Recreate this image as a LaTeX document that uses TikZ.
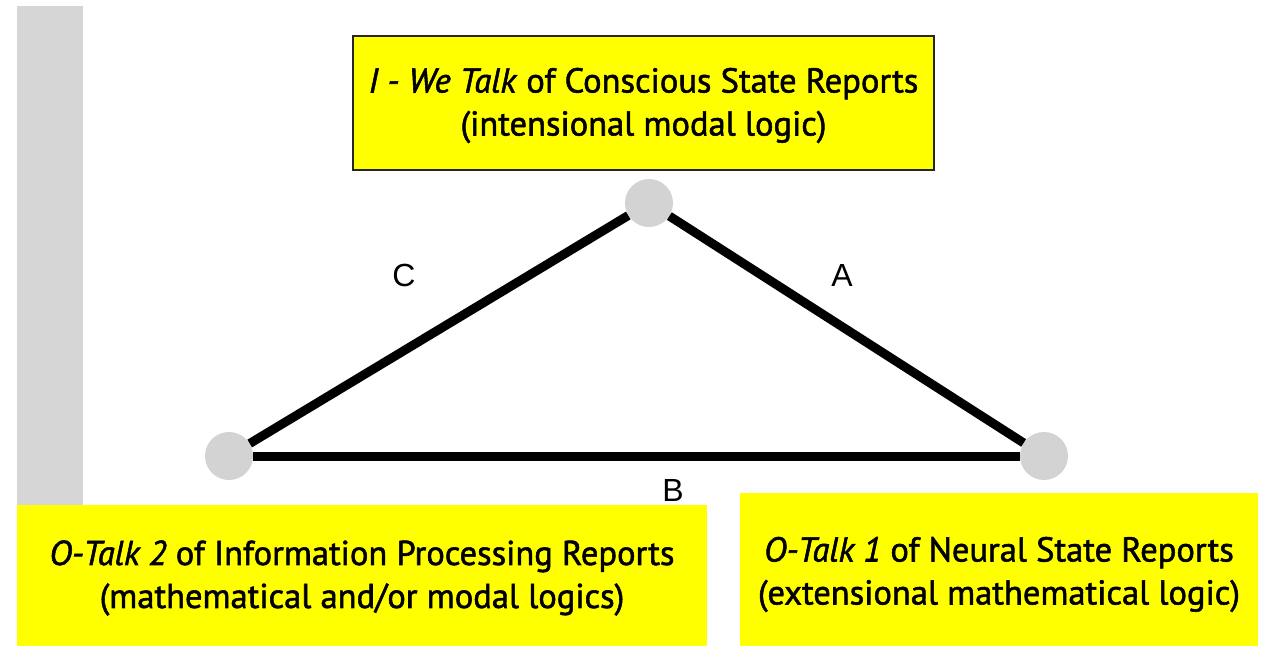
\documentclass[tikz,border=0pt]{standalone}
\usepackage{fontspec}
\setmainfont{PT Sans}[FakeBold=1.6]
\newfontfamily\labfont{Liberation Sans}
\definecolor{boxyellow}{RGB}{255,255,0}
\definecolor{bargray}{RGB}{214,214,214}
\definecolor{dotgray}{RGB}{211,211,211}
\begin{document}
\begin{tikzpicture}[x=1pt,y=-1pt,
  ybox/.style={fill=boxyellow, inner sep=0pt},
  btext/.style={align=center, inner sep=0pt, font=\fontsize{34.5}{43}\selectfont},
  dot/.style={circle, fill=dotgray, minimum size=48pt, inner sep=0pt},
  edge/.style={line width=9pt, black},
  lab/.style={font=\labfont\fontsize{32}{33}\selectfont, inner sep=0pt}]
\useasboundingbox (0,0) rectangle (1268,646);
\fill[white] (0,0) rectangle (1268,646);
% gray bar
\fill[bargray] (17,6) rectangle (83,510);
% boxes
\node[ybox, draw=black!85, line width=1.2pt, minimum width=581pt, minimum height=134pt] (top) at (643.5,103) {};
\node[btext] (toptext) at (643.5,105.5) {\textit{I - We Talk} of Conscious State Reports\\(intensional modal logic)};
\node[ybox, minimum width=690pt, minimum height=141pt] (left) at (362,575.5) {};
\node[btext] (lefttext) at (362,578) {\textit{O-Talk 2} of Information Processing Reports\\(mathematical and/or modal logics)};
\node[ybox, minimum width=518pt, minimum height=153pt] (right) at (999,569.5) {};
\node[btext] (righttext) at (999,574.5) {\textit{O-Talk 1} of Neural State Reports\\(extensional mathematical logic)};
% dots
\node[dot] (T) at (649,203) {};
\node[dot] (L) at (229,456) {};
\node[dot] (R) at (1044,456) {};
% edges
\draw[edge] (L) -- (T);
\draw[edge] (T) -- (R);
\draw[edge] (L) -- (R);
% labels
\node[lab] (lc) at (404,275) {C};
\node[lab] (la) at (842,275) {A};
\node[lab] (lb) at (673,490) {B};
\end{tikzpicture}
\end{document}
